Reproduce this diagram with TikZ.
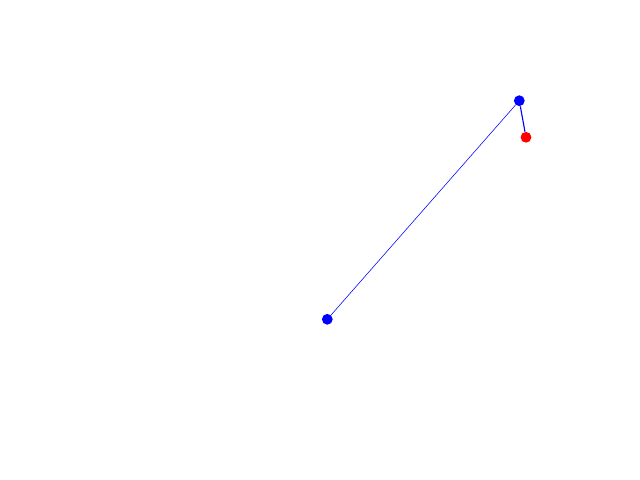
\documentclass[tikz,border=0pt]{standalone}
\usepackage{tikz}

\begin{document}
\begin{tikzpicture}[x=0.025cm,y=-0.025cm]
\tikzset{dot/.style={circle,inner sep=0pt,minimum size=0.27cm}}
\useasboundingbox (0,0) rectangle (640,480);
\node[dot,fill=blue] (base) at (327.3,319.3) {};
\node[dot,fill=blue] (joint) at (519.3,100.7) {};
\node[dot,fill=red] (tip) at (526,137.3) {};

\draw[blue,line width=0.4pt] (base) -- (joint);
\draw[blue,line width=0.8pt] (joint) -- (tip);
\end{tikzpicture}
\end{document}
